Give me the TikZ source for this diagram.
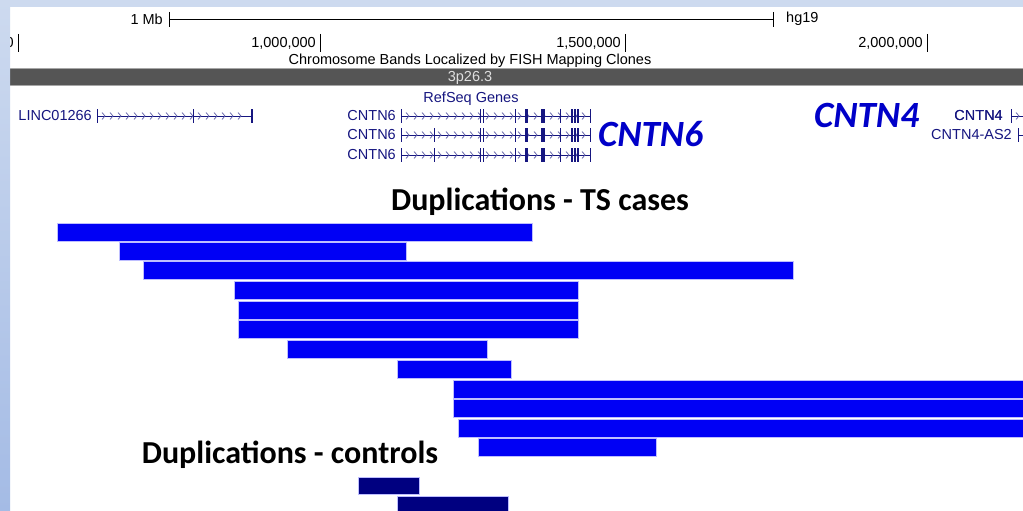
\documentclass[tikz,border=0pt]{standalone}
\usepackage{fontspec}
\setmainfont{Liberation Sans}
\newfontfamily\slidefont{Carlito}
\usetikzlibrary{positioning}

\definecolor{genecol}{RGB}{22,22,128}
\definecolor{dupblue}{RGB}{0,0,245}
\definecolor{ctrlnavy}{RGB}{0,0,128}
\definecolor{dupedge}{RGB}{190,190,255}
\definecolor{labelblue}{RGB}{0,0,200}
\definecolor{bandgray}{RGB}{85,85,85}
\definecolor{striptop}{RGB}{205,218,239}
\definecolor{stripbot}{RGB}{164,187,229}

% #1 y, #2 start, #3 end, #4 strand (1 or -1), #5 exons as x/width
\newcommand{\drawgene}[5]{%
  \draw[intron] (#2,#1) -- (#3,#1);
  \pgfmathtruncatemacro\nchev{(#3-#2-6)/8}
  \foreach \k in {1,...,\nchev}{%
    \pgfmathsetmacro\cx{#2+8*\k}
    \draw[chevron] (\cx-3*#4,#1-3.5) -- (\cx,#1) -- (\cx-3*#4,#1+3.5);
  }
  \foreach \ex/\w in {#5}
    \draw[genecol, line width=\w pt] (\ex,#1-7) -- (\ex,#1+7);
}

\begin{document}
\begin{tikzpicture}[x=1pt, y=-1pt,
    browser/.style={font=\fontsize{14.5}{15}\selectfont, inner sep=0pt},
    genelbl/.style={browser, text=genecol, anchor=east},
    intron/.style={genecol, line width=0.8pt},
    chevron/.style={genecol!70, line width=0.7pt},
    tick/.style={line width=0.8pt},
    dupbar/.style={fill=dupblue, draw=dupedge, line width=0.7pt},
    ctrlbar/.style={fill=ctrlnavy, draw=dupedge, line width=0.7pt},
    biglabel/.style={font=\slidefont\bfseries\itshape\fontsize{37}{37}\selectfont, text=labelblue, inner sep=0pt},
    heading/.style={font=\slidefont\bfseries\fontsize{32}{32}\selectfont, inner sep=0pt}]
  \useasboundingbox (0,0) rectangle (1023,511);
  \clip (0,0) rectangle (1023,511);
  \fill[white] (0,0) rectangle (1023,511);

  % ruler
  \node[browser, anchor=east] (mb) at (163,19) {1 Mb};
  \node[browser, anchor=west] (hg) at (786,19) {hg19};
  \draw[tick] ([xshift=6pt]mb.east) -- ([xshift=-13pt]hg.west);
  \draw[tick] ([xshift=6pt,yshift=7pt]mb.east) -- ([xshift=6pt,yshift=-8pt]mb.east);
  \draw[tick] ([xshift=-13pt,yshift=7pt]hg.west) -- ([xshift=-13pt,yshift=-8pt]hg.west);
  \foreach \t/\lbl/\nm in {18/0/p0, 320/{1,000,000}/p1, 625/{1,500,000}/p15, 927/{2,000,000}/p2}{
    \node[browser, anchor=east] (\nm) at (\t-4,43) {\lbl};
    \draw[tick] (\t,34) -- (\t,52);
  }

  % chromosome band
  \node[browser] (bands) at (470,61) {Chromosome Bands Localized by FISH Mapping Clones};
  \fill[bandgray] (10,68) rectangle (1023,86);
  \draw[gray!70] (10,68.5) -- (1023,68.5) (10,85.5) -- (1023,85.5);
  \node[browser, text=gray!25] (band) at (470,77.5) {3p26.3};

  % refseq genes
  \node[browser, text=genecol] (refseq) at (471,99) {RefSeq Genes};
  \node[genelbl] (linc) at (92,116) {LINC01266};
  \drawgene{116}{97}{253}{1}{97/0.9, 193/0.9, 252/2.2}
  \foreach \row/\yy in {a/116, b/135, c/155}
    \node[genelbl] (c6\row) at (396,\yy) {CNTN6};
  \drawgene{116}{401}{591}{1}{401/0.9, 480/0.9, 483/0.9, 515/0.9, 525/0.9, 527/1.4, 543/3.5, 560/0.9, 572/1.4, 575/1.4, 578/1.4, 590/0.9}
  \foreach \yy in {135, 155}
    \drawgene{\yy}{401}{591}{1}{401/0.9, 434/0.9, 480/0.9, 483/0.9, 515/0.9, 525/0.9, 527/1.4, 543/3.5, 560/0.9, 572/1.4, 575/1.4, 578/1.4, 590/0.9}
  \node[genelbl] (c4) at (1003,116) {CNTN4};
  \drawgene{116}{1011}{1040}{1}{1011/0.9}
  \node[genelbl] (c4as) at (1012,135) {CNTN4-AS2};
  \drawgene{135}{1018}{1040}{-1}{1018/0.9}

  \node[biglabel, anchor=west] (lblsix) at (598,134) {CNTN6};
  \node[biglabel, anchor=west] (lblfour) at (814,115) {CNTN4};

  % duplications in TS cases
  \node[heading] (tscases) at (540,202) {Duplications - TS cases};
  \foreach \xa/\xb/\ya in {57/532/223, 119/406/242, 143/793/261, 234/578/281,
      238/578/301, 238/578/320, 287/487/340, 397/511/360, 453/1030/380,
      453/1030/399, 458/1030/419, 478/656/438}
    \filldraw[dupbar] (\xa,\ya) rectangle (\xb,\ya+18);

  % duplications in controls
  \node[heading] (controls) at (290,455) {Duplications - controls};
  \foreach \xa/\xb/\ya in {358/419/477, 397/508/496}
    \filldraw[ctrlbar] (\xa,\ya) rectangle (\xb,\ya+17);

  % slide frame
  \fill[striptop] (0,0) rectangle (1023,7);
  \shade[top color=striptop, bottom color=stripbot] (0,0) rectangle (10,511);
\end{tikzpicture}
\end{document}
